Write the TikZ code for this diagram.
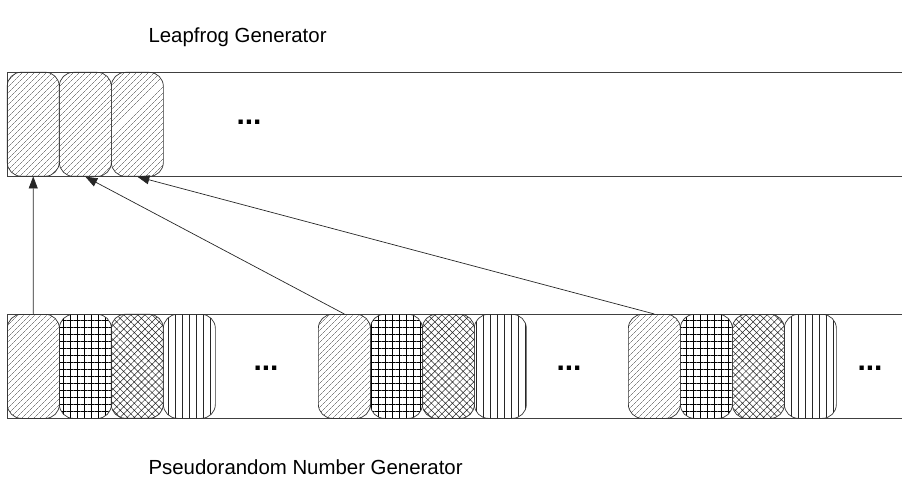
\documentclass[tikz,border=0pt]{standalone}
\usepackage{fontspec}
\setmainfont{Liberation Sans}
\usetikzlibrary{patterns.meta,arrows.meta}
\begin{document}
\begin{tikzpicture}[x=1pt,y=-1pt,
  band/.style={draw=black!75,line width=0.8pt},
  cell/.style={draw=black!80,line width=0.7pt,rounded corners=14pt,minimum width=52pt,minimum height=104pt,inner sep=0pt,anchor=north west},
  diag/.style={cell,pattern={Lines[angle=45,distance=4pt,line width=0.45pt]},pattern color=black!75},
  gridc/.style={cell,pattern={Hatch[angle=0,distance=7pt,line width=0.8pt]},pattern color=black},
  cross/.style={cell,pattern={Hatch[angle=45,distance=5pt,line width=0.5pt]},pattern color=black!85},
  vert/.style={cell,pattern={Lines[angle=90,distance=7pt,line width=0.7pt]},pattern color=black!85},
  dots/.style={font=\fontsize{30}{32}\selectfont\bfseries},
  lbl/.style={font=\fontsize{20.4}{24}\selectfont,anchor=west},
  arr/.style={draw=black!85,line width=0.7pt,-{Triangle[length=12pt,width=9pt]}}]
\useasboundingbox (0,0) rectangle (902,481);
% titles
\node[lbl] (ttop) at (145,37) {Leapfrog Generator};
\node[lbl] (tbot) at (145,467) {Pseudorandom Number Generator};
% leapfrog band
\draw[band] (902,72) -- (7,72) -- (7,176) -- (902,176);
\node[diag] (l1) at (7,72) {};
\node[diag] (l2) at (59,72) {};
\node[diag] (l3) at (111,72) {};
\node[dots] (ld) at (249,122) {...};
% pseudorandom band
\draw[band] (902,314) -- (7,314) -- (7,418) -- (902,418);
\foreach \g/\x in {1/7,2/318,3/628}{
  \node[diag]  (p\g a) at (\x,314) {};
  \node[gridc] (p\g b) at (\x+52,314) {};
  \node[cross] (p\g c) at (\x+104,314) {};
  \node[vert]  (p\g d) at (\x+156,314) {};
}
\node[dots] (pd1) at (266,368) {...};
\node[dots] (pd2) at (569,368) {...};
\node[dots] (pd3) at (870,368) {...};
% leapfrog connections
\draw[arr] (p1a.north) -- (l1.south);
\draw[arr] (p2a.north) -- (l2.south);
\draw[arr] (p3a.north) -- (l3.south);
\end{tikzpicture}
\end{document}
